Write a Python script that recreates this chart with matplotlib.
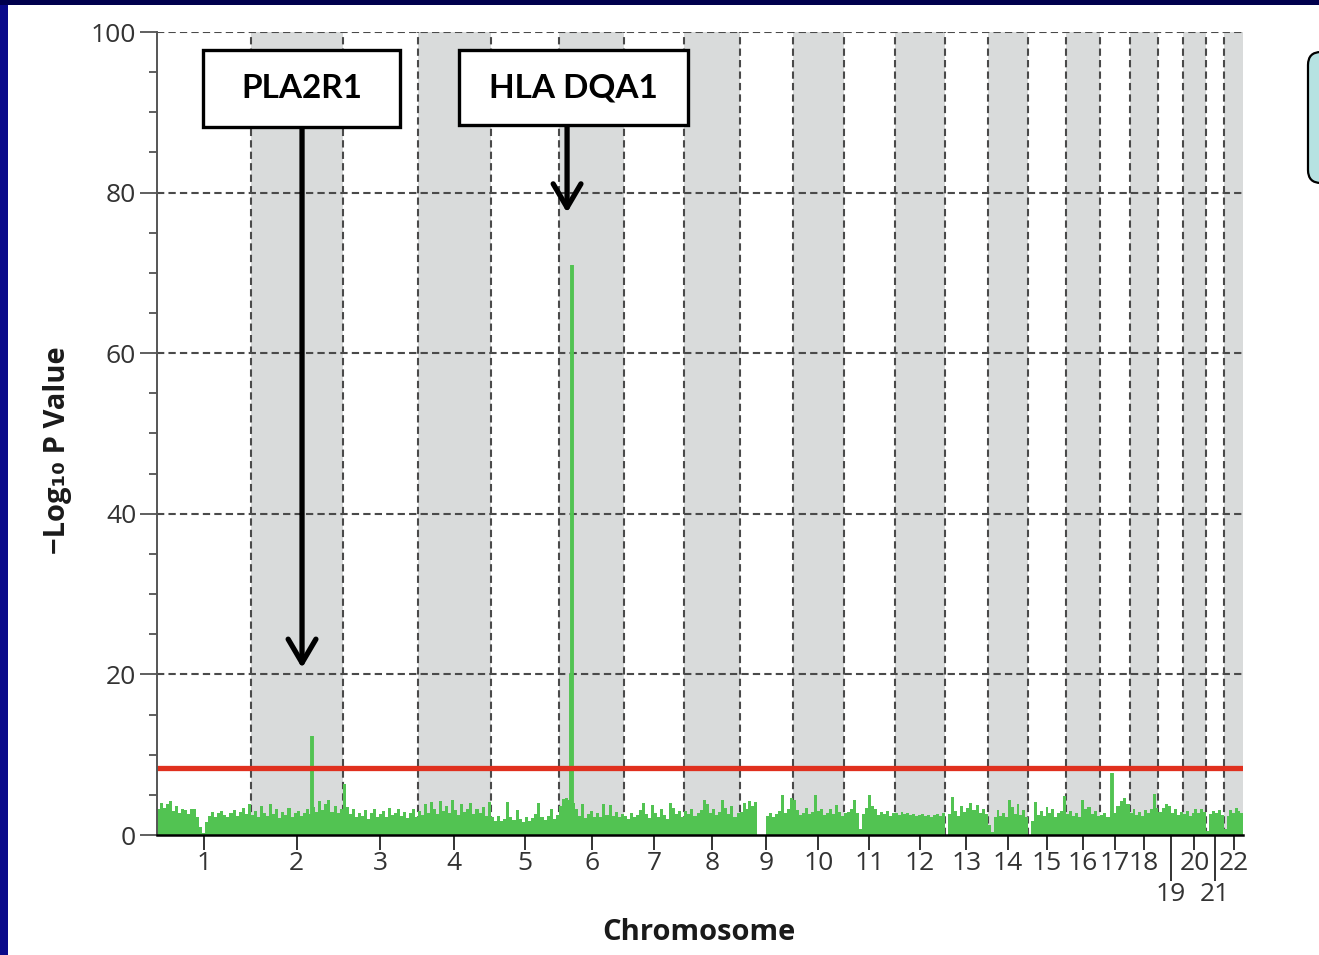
import numpy as np
import matplotlib
matplotlib.use("Agg")
import matplotlib.pyplot as plt
from matplotlib.patches import Rectangle, FancyBboxPatch
from matplotlib.ticker import MultipleLocator

# chromosome sizes (Mb), x axis is cumulative genome position
CHROMS = [str(i) for i in range(1, 23)]
CHROM_LEN_MB = [247, 243, 199, 191, 181, 171, 159, 146, 140, 135, 134,
                132, 114, 106, 100, 89, 79, 76, 64, 62, 47, 50]

# background -log10 p profile
c1 = [3.2, 4.0, 3.4, 3.8, 4.2, 3.0, 3.6, 2.8, 3.3, 3.1, 2.6, 3.3, 3.2, 2.2, 1.0, 0.3,
      1.6, 2.4, 2.9, 2.3, 2.8, 3.0, 2.5, 2.2, 2.7, 3.1, 2.4, 2.9, 3.4, 2.6, 3.8]
c2 = [2.5, 3.0, 2.2, 3.6, 2.8, 2.4, 3.9, 2.6, 3.2, 2.1, 2.9, 2.5, 3.4, 2.3, 2.7, 3.0,
      2.4, 2.8, 3.3, 2.6, 3.5, 2.9, 4.2, 3.1, 3.8, 4.3, 2.9, 3.6, 2.7, 3.2]
c3 = [6.4, 3.5, 2.6, 3.2, 2.2, 2.8, 2.4, 3.1, 2.0, 2.7, 3.3, 2.3, 2.6, 3.0, 2.2, 3.4,
      2.5, 2.8, 3.3, 2.4, 2.9, 2.1, 2.7, 3.2, 2.3]
c4 = [3.0, 2.5, 3.9, 2.8, 4.1, 3.3, 2.6, 4.2, 3.0, 3.6, 2.7, 4.3, 3.1, 2.5, 3.8, 2.9,
      3.3, 4.0, 2.6, 3.2, 2.8, 3.5, 2.4, 4.1]
c5 = [2.2, 1.8, 2.4, 1.7, 2.0, 4.1, 2.2, 1.9, 3.1, 2.0, 1.6, 2.3, 1.8, 2.1, 2.6, 4.0,
      2.2, 1.9, 2.4, 3.3, 2.0, 2.5]
c6 = [3.6, 4.5, 4.6, 4.4, 4.0, 3.2, 2.4, 3.8, 2.1, 2.6, 3.0, 2.3, 2.7, 2.2, 3.9, 2.5,
      3.7, 2.4, 2.9, 2.2, 2.6]
c7 = [2.4, 2.0, 2.8, 2.2, 2.5, 3.1, 4.0, 2.6, 2.1, 3.7, 2.8, 2.3, 3.2, 2.5, 2.0, 4.0,
      3.4, 2.6, 3.0, 2.3]
c8 = [3.0, 2.6, 3.2, 2.4, 2.8, 3.1, 4.4, 3.9, 2.7, 3.3, 2.5, 2.9, 4.3, 3.4, 2.6, 3.6,
      2.2, 2.8]
c9 = [2.9, 4.0, 3.2, 4.2, 3.6, 4.1, 0.0, 0.0, 0.0, 2.4, 2.8, 2.2, 2.6, 3.0, 5.0, 2.7,
      3.3, 4.6]
c10 = [4.4, 3.1, 2.5, 2.8, 3.4, 2.6, 2.9, 5.0, 3.0, 3.3, 2.5, 2.8, 3.2, 2.6, 3.7, 2.9, 2.4]
c11 = [2.7, 2.9, 3.3, 4.3, 2.8, 0.8, 2.6, 3.4, 5.0, 3.6, 3.2, 2.5, 2.9, 2.6, 3.0, 2.4, 2.7]
c12 = [2.8, 2.5, 2.9, 2.6, 2.7, 2.5, 2.6, 2.4, 2.5, 2.6, 2.4, 2.5, 2.3, 2.5, 2.6, 2.4, 2.7]
c13 = [0.0, 2.6, 4.7, 3.0, 2.4, 3.6, 2.9, 3.4, 4.0, 3.1, 3.7, 2.8, 3.3, 2.6]
c14 = [1.2, 0.4, 2.2, 3.1, 2.4, 2.8, 2.3, 4.3, 3.5, 2.6, 3.8, 2.5, 3.1, 2.2]
c15 = [0.0, 1.8, 4.1, 2.5, 3.0, 2.4, 3.5, 2.8, 3.2, 2.3, 2.7, 3.0, 4.8]
c16 = [2.6, 3.0, 2.4, 2.8, 2.2, 4.3, 3.2, 3.5, 2.6, 3.0, 2.4]
c17 = [2.5, 2.8, 2.3, 3.0, 2.7, 3.6, 4.2, 4.6, 3.9]
c18 = [2.8, 3.2, 2.5, 2.9, 2.4, 3.1, 2.7, 3.3, 5.1, 3.4]
c19 = [2.9, 3.4, 3.9, 3.6, 2.8, 3.2, 2.5, 2.9]
c20 = [2.6, 3.0, 2.4, 2.8, 3.2, 2.7, 3.3, 2.9]
c21 = [0.5, 2.6, 3.0, 2.7, 3.1, 2.5]
c22 = [0.8, 2.4, 3.1, 2.7, 3.4, 3.0, 2.8]
NOISE = [c1, c2, c3, c4, c5, c6, c7, c8, c9, c10, c11, c12, c13, c14, c15,
         c16, c17, c18, c19, c20, c21, c22]

# the few strong signals (chromosome, position in Mb, -log10 p)
HIT_CHROM = [2, 6, 6, 17]
HIT_POS_MB = [162.0, 32.4, 32.7, 33.0]
HIT_LOGP = [12.3, 20.0, 71.0, 7.7]

THRESHOLD = 8.3

GENES = ["PLA2R1", "HLA DQA1"]
GENE_CHROM = [2, 6]
GENE_POS_MB = [135.6, 20.8]
GENE_TIP = [20.8, 77.5]

GREEN = "#52c352"
BAND = "#d9dbdb"
GRID = "#4a4a4a"
TXT = "#333333"

W, H = 1319, 955
fig = plt.figure(figsize=(W / 100, H / 100), dpi=100, facecolor="#0a0a8a")
# white slide area + dark strip at the very top
fig.add_artist(Rectangle((8 / W, 0), 1, 1 - 5 / H, transform=fig.transFigure,
                         fc="white", ec="none", zorder=-5))
fig.add_artist(Rectangle((0, 1 - 5 / H), 1, 5 / H, transform=fig.transFigure,
                         fc="#00004d", ec="none", zorder=-5))

ax = fig.add_axes([157 / W, 1 - 835 / H, 1086 / W, 803 / H])
ax.set_facecolor("none")

lens = np.array(CHROM_LEN_MB, dtype=float)
starts = np.concatenate([[0], np.cumsum(lens)[:-1]])
total = lens.sum()
mids = starts + lens / 2

# alternating grey bands for even chromosomes
for k in range(1, 22, 2):
    ax.axvspan(starts[k], starts[k] + lens[k], color=BAND, lw=0, zorder=0)

# dashed grid: chromosome borders and every 20 units
ax.vlines(starts[1:], 0, 100, colors=GRID, lw=1.5, linestyles=(0, (3.5, 2)), zorder=1)
for yv in [20, 40, 60, 80, 100]:
    ax.axhline(yv, color=GRID, lw=1.5, ls=(0, (3.5, 2)), zorder=1)

# background profile
for k, vals in enumerate(NOISE):
    n = len(vals)
    edges = starts[k] + np.linspace(0, lens[k], n + 1)
    ax.stairs(vals, edges, fill=True, color=GREEN, lw=0, zorder=2)

hx = [starts[c - 1] + p for c, p in zip(HIT_CHROM, HIT_POS_MB)]
ax.vlines(hx, 0, HIT_LOGP, colors=GREEN, lw=2.8, zorder=2)

ax.axhline(THRESHOLD, color="#e0301e", lw=3.8, zorder=4)

ax.set_xlim(0, total)
ax.set_ylim(0, 100)

for s in ["top", "right"]:
    ax.spines[s].set_visible(False)
ax.spines["left"].set_color("#555555")
ax.spines["left"].set_linewidth(1.4)
ax.spines["bottom"].set_color("black")
ax.spines["bottom"].set_linewidth(1.8)
ax.spines["left"].set_zorder(5)
ax.spines["bottom"].set_zorder(5)

tick_font = dict(family=["Open Sans", "DejaVu Sans"], size=19, color=TXT)
ax.set_yticks([0, 20, 40, 60, 80, 100])
ax.set_yticklabels(["0", "20", "40", "60", "80", "100"], **tick_font)
ax.yaxis.set_minor_locator(MultipleLocator(5))
ax.tick_params(axis="y", which="major", length=12, width=1.2, color="#444444", pad=3)
ax.tick_params(axis="y", which="minor", length=6, width=1.2, color="#444444")

upper = [i for i in range(22) if CHROMS[i] not in ("19", "21")]
lower = [i for i in range(22) if CHROMS[i] in ("19", "21")]
ax.set_xticks(mids[upper])
ax.set_xticklabels([CHROMS[i] for i in upper], **tick_font)
ax.set_xticks(mids[lower], minor=True)
ax.set_xticklabels([CHROMS[i] for i in lower], minor=True, **tick_font)
ax.tick_params(axis="x", which="major", length=10.5, width=1.3, color="#222222", pad=1)
ax.tick_params(axis="x", which="minor", length=33, width=1.3, color="#222222", pad=1)

lab_font = dict(family=["Open Sans", "DejaVu Sans"], size=21, weight="bold", color="#1a1a1a")
fig.text(57 / W, 1 - 450 / H, "\u2212Log\u2081\u2080 P Value", rotation=90,
         ha="center", va="center", **lab_font)
fig.text(699 / W, 1 - 932 / H, "Chromosome", ha="center", va="center", **lab_font)

# gene call-outs: boxes (pixel layout) and arrows down into the plot
boxes = [(203, 50, 197, 77), (459, 50, 229, 75)]
for (bx, by, bw, bh), name, c, pos, tip in zip(boxes, GENES, GENE_CHROM, GENE_POS_MB, GENE_TIP):
    fig.add_artist(Rectangle((bx / 100, (H - by - bh) / 100), bw / 100, bh / 100,
                             transform=fig.dpi_scale_trans, fc="white", ec="black",
                             lw=2.4, zorder=6))
    fig.text((bx + bw / 2) / W, 1 - (by + bh / 2) / H, name, ha="center", va="center",
             family=["Lato", "DejaVu Sans"], weight="bold", size=24, color="black", zorder=7)
    y_from = (835 - (by + bh)) / 8.03
    ax.annotate("", xy=(starts[c - 1] + pos, tip), xytext=(starts[c - 1] + pos, y_from),
                arrowprops=dict(arrowstyle="->,head_length=0.85,head_width=0.5",
                                lw=3.8, color="black", shrinkA=0, shrinkB=0,
                                mutation_scale=20),
                annotation_clip=False, zorder=6)

# cut-off callout box at the right edge
fig.add_artist(FancyBboxPatch((1308 / 100, (H - 183) / 100), 0.6, 131 / 100,
                              boxstyle="round,pad=0,rounding_size=0.13",
                              transform=fig.dpi_scale_trans, fc="#b6e2e2",
                              ec="black", lw=1.6, zorder=6))

fig.savefig("out.png", dpi=100, facecolor=fig.get_facecolor())
